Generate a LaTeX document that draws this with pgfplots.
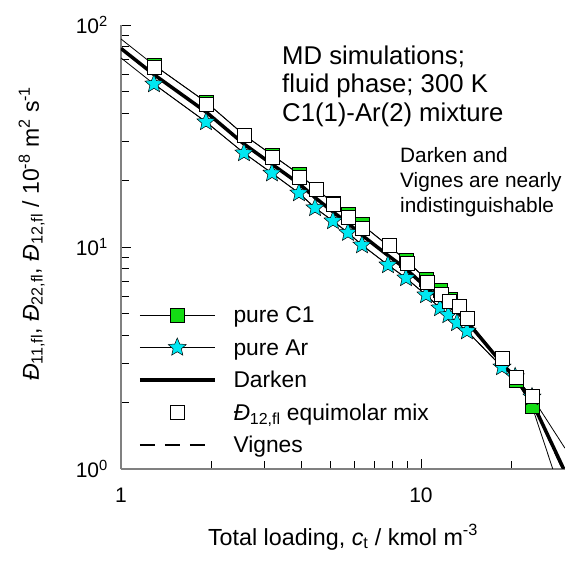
\documentclass[border=0pt]{standalone}
\usepackage{pgfplots}
\pgfplotsset{compat=1.18}
\usepackage{fontspec}
\setmainfont{Liberation Sans}
\definecolor{cgreen}{RGB}{20,220,20}
\definecolor{ccyan}{RGB}{0,232,242}
\definecolor{axgray}{RGB}{128,128,128}
\pgfdeclareplotmark{fstar}{%
  \pgfpathmoveto{\pgfpointpolar{90}{\pgfplotmarksize}}%
  \pgfpathlineto{\pgfpointpolar{126}{0.45\pgfplotmarksize}}%
  \pgfpathlineto{\pgfpointpolar{162}{\pgfplotmarksize}}%
  \pgfpathlineto{\pgfpointpolar{198}{0.45\pgfplotmarksize}}%
  \pgfpathlineto{\pgfpointpolar{234}{\pgfplotmarksize}}%
  \pgfpathlineto{\pgfpointpolar{270}{0.45\pgfplotmarksize}}%
  \pgfpathlineto{\pgfpointpolar{306}{\pgfplotmarksize}}%
  \pgfpathlineto{\pgfpointpolar{342}{0.45\pgfplotmarksize}}%
  \pgfpathlineto{\pgfpointpolar{18}{\pgfplotmarksize}}%
  \pgfpathlineto{\pgfpointpolar{54}{0.45\pgfplotmarksize}}%
  \pgfpathclose
  \pgfusepathqfillstroke}

\pgfplotstableread{
x y
1 86.5
1.288 66.0
1.920 45.0
2.570 32.0
3.186 26.0
3.920 21.3
5.089 15.8
5.709 14.1
6.358 12.6
8.913 8.74
10.39 7.17
11.57 6.40
12.50 5.83
20.73 2.52
23.44 1.92
27.5 1.0
}\cOneLine
\pgfplotstableread{
x y
1.288 66.0
1.920 45.0
2.570 32.0
3.186 26.0
3.920 21.3
5.089 15.8
5.709 14.1
6.358 12.6
8.913 8.74
10.39 7.17
11.57 6.40
12.50 5.83
20.73 2.52
23.44 1.92
}\cOnePts
\pgfplotstableread{
x y
1 71.1
1.288 54.2
1.920 36.6
2.570 26.5
3.186 21.5
3.920 17.5
4.434 15.0
5.089 13.1
5.709 11.6
6.358 10.2
7.762 8.30
8.913 7.25
10.39 6.08
11.57 5.31
12.33 4.94
13.18 4.55
14.23 4.18
18.62 2.88
20.60 2.60
23.44 2.11
30.2 1.24
}\ArLine
\pgfplotstableread{
x y
1.288 54.2
1.920 36.6
2.570 26.5
3.186 21.5
3.920 17.5
4.434 15.0
5.089 13.1
5.709 11.6
6.358 10.2
7.762 8.30
8.913 7.25
10.39 6.08
11.57 5.31
12.33 4.94
13.18 4.55
14.23 4.18
18.62 2.88
20.60 2.60
23.44 2.11
}\ArPts
\pgfplotstableread{
x y
1 78.4
1.288 59.8
1.920 40.6
2.570 29.1
3.186 23.6
3.920 19.3
4.434 16.7
5.089 14.4
5.709 12.8
6.358 11.3
7.762 9.16
8.913 7.96
10.39 6.60
11.57 5.83
12.50 5.37
13.39 5.00
14.23 4.62
18.62 2.99
20.73 2.56
23.44 2.01
29.9 1.0
}\Darken
\pgfplotstableread{
x y
1 78.2
1.288 59.7
1.920 40.5
2.570 29.0
3.186 23.5
3.920 19.2
4.434 16.6
5.089 14.4
5.709 12.8
6.358 11.3
7.762 9.15
8.913 7.97
10.39 6.62
11.57 5.85
12.50 5.38
13.39 5.01
14.23 4.63
18.62 3.00
20.73 2.55
23.44 1.99
29.6 1.0
}\Vignes
\pgfplotstableread{
x y
1.288 64.4
1.920 44.1
2.570 31.9
3.186 25.4
3.920 20.5
4.470 18.2
5.089 15.5
5.709 13.6
6.400 12.1
7.820 10.2
8.980 8.47
10.47 6.96
11.66 6.14
12.40 5.71
13.39 5.42
14.23 4.79
18.62 3.16
20.73 2.60
23.44 2.13
}\Mix

\begin{document}
\begin{tikzpicture}
\begin{loglogaxis}[
  at={(0pt,0pt)}, anchor=south west,
  width=444pt, height=444pt, scale only axis,
  xmin=1, xmax=30.2, ymin=1, ymax=100,
  axis lines*=left,
  axis line style={draw=axgray, line width=1.8pt},
  tick align=inside,
  major tick length=10pt, minor tick length=8pt,
  tick style={black, line width=0.8pt},
  xtick={1,10}, xticklabels={1,10},
  minor xtick={2,3,4,5,6,7,8,9,20},
  ytick={1,10,100},
  yticklabels={10\textsuperscript{0},10\textsuperscript{1},10\textsuperscript{2}},
  minor ytick={2,3,4,5,6,7,8,9,20,30,40,50,60,70,80,90},
  ticklabel style={font=\fontsize{21}{24}\selectfont, inner sep=0pt},
  yticklabel style={anchor=east, xshift=-13pt},
  xticklabel style={anchor=north, yshift=-19pt},
  every axis x label/.style={at={(axis description cs:0.5,-0.1712)}, anchor=base, font=\fontsize{23.3}{27}\selectfont},
  every axis y label/.style={at={(axis description cs:-0.185,0.53)}, rotate=90, anchor=base, font=\fontsize{23}{27}\selectfont},
  xlabel={Total loading, \textit{c}\textsubscript{t} / kmol m\textsuperscript{-3}},
  ylabel={\textit{Đ}\textsubscript{11,fl}, \textit{Đ}\textsubscript{22,fl}, \textit{Đ}\textsubscript{12,fl} / 10\textsuperscript{-8} m\textsuperscript{2} s\textsuperscript{-1}},
  legend style={at={(axis description cs:0.0383,0.3694)}, anchor=north west,
    draw=none, fill=none, inner sep=0pt, outer sep=0pt,
    row sep=12.5pt, column sep=17pt,
    font=\fontsize{22.8}{26}\selectfont,
    nodes={inner sep=0pt, text height=18pt, text depth=2pt}},
  legend cell align=left,
  legend image code/.code={\draw[mark repeat=2,mark phase=2] plot coordinates {(0pt,0pt) (37.5pt,0pt) (75pt,0pt)};},
]
\addplot[black, line width=0.8pt, forget plot] table[x=x,y=y] {\cOneLine};
\addplot[black, line width=0.8pt, mark=square*, mark size=7pt, mark options={fill=cgreen, draw=black, line width=0.6pt}] table[x=x,y=y] {\cOnePts};
\addlegendentry{pure C1}
\addplot[black, line width=0.8pt, forget plot] table[x=x,y=y] {\ArLine};
\addplot[black, line width=0.8pt, mark=fstar, mark size=9.5pt, mark options={fill=ccyan, draw=black, line width=0.5pt}] table[x=x,y=y] {\ArPts};
\addlegendentry{pure Ar}
\addplot[black, line width=3.5pt] table[x=x,y=y] {\Darken};
\addlegendentry{Darken}
\addplot[only marks, mark=square*, mark size=7pt, mark options={fill=white, draw=black, line width=0.7pt}] table[x=x,y=y] {\Mix};
\addlegendentry{\textit{Đ}\textsubscript{12,fl} equimolar mix}
\addplot[black, line width=1.3pt, dash pattern=on 15pt off 10pt] table[x=x,y=y] {\Vignes};
\addlegendentry{Vignes}
\end{loglogaxis}
\begin{scope}[every node/.style={anchor=base west, inner sep=0pt}]
\node[font=\fontsize{25.7}{30}\selectfont] at (161pt,404pt) {MD simulations;};
\node[font=\fontsize{25.7}{30}\selectfont] at (161pt,376pt) {fluid phase; 300 K};
\node[font=\fontsize{25.7}{30}\selectfont] at (161pt,347pt) {C1(1)-Ar(2) mixture};
\node[font=\fontsize{20.8}{25}\selectfont] at (279pt,306pt) {Darken and};
\node[font=\fontsize{20.8}{25}\selectfont] at (279pt,281pt) {Vignes are nearly};
\node[font=\fontsize{20.8}{25}\selectfont] at (279pt,256pt) {indistinguishable};
\end{scope}
\pgfresetboundingbox
\useasboundingbox (-121pt,-104pt) rectangle (453pt,469pt);
\end{tikzpicture}
\end{document}
